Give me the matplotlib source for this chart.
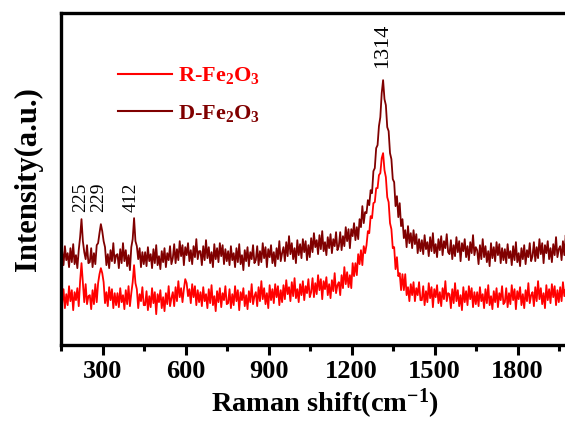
import numpy as np
import matplotlib
matplotlib.use("Agg")
import matplotlib.pyplot as plt
from matplotlib.ticker import MultipleLocator

plt.rcParams["font.family"] = ["Liberation Serif", "DejaVu Serif"]
plt.rcParams["font.weight"] = "bold"
plt.rcParams["mathtext.fontset"] = "custom"
plt.rcParams["mathtext.rm"] = "Liberation Serif:bold"
plt.rcParams["mathtext.bf"] = "Liberation Serif:bold"
plt.rcParams["mathtext.default"] = "bf"

# ---- data (arbitrary intensity units) ----
raman_shift = np.arange(154, 2000, 5)   # cm^-1, 370 points

d_fe2o3 = [
    94, 80, 99, 85, 92, 78, 97, 83, 101, 81, 90, 77, 95, 108, 126, 104, 93, 86, 100, 82,
    83, 97, 78, 92, 81, 100, 102, 112, 121, 114, 104, 98, 80, 91, 77, 95, 84, 102, 82, 90,
    91, 77, 96, 82, 102, 84, 95, 79, 90, 75, 98, 106, 127, 104, 99, 86, 97, 78, 93, 81,
    93, 79, 98, 84, 91, 77, 96, 82, 100, 80, 89, 76, 94, 83, 97, 78, 92, 85, 99, 81,
    87, 101, 82, 96, 85, 104, 89, 100, 80, 98, 90, 102, 84, 95, 81, 99, 88, 106, 86, 94,
    94, 80, 99, 85, 105, 87, 98, 82, 93, 78, 101, 86, 97, 83, 102, 89, 100, 81, 96, 84,
    94, 80, 99, 85, 92, 78, 97, 83, 101, 81, 90, 75, 95, 84, 98, 79, 93, 86, 100, 82,
    85, 99, 80, 94, 83, 102, 87, 98, 78, 96, 88, 100, 82, 93, 79, 97, 86, 104, 84, 92,
    98, 84, 103, 89, 109, 91, 102, 86, 97, 82, 105, 90, 101, 87, 106, 93, 104, 85, 100, 88,
    107, 93, 112, 98, 105, 91, 110, 96, 114, 94, 103, 90, 108, 97, 111, 92, 106, 99, 113, 95,
    99, 113, 95, 109, 99, 118, 104, 116, 97, 116, 109, 122, 105, 118, 106, 126, 118, 139, 122, 133,
    132, 145, 140, 155, 152, 174, 177, 197, 200, 219, 228, 252, 265, 246, 240, 218, 214, 192, 186, 166,
    163, 139, 149, 128, 142, 119, 126, 107, 115, 98, 119, 102, 112, 97, 115, 101, 111, 92, 106, 94,
    105, 91, 110, 96, 103, 89, 108, 94, 112, 92, 101, 88, 106, 95, 109, 90, 104, 97, 111, 93,
    91, 105, 86, 100, 89, 108, 93, 104, 84, 102, 94, 106, 88, 99, 85, 103, 92, 110, 90, 98,
    95, 81, 100, 86, 106, 88, 99, 83, 94, 79, 102, 87, 98, 84, 103, 90, 101, 82, 97, 85,
    96, 82, 101, 87, 94, 80, 99, 85, 103, 83, 92, 79, 97, 86, 100, 81, 95, 88, 102, 84,
    89, 103, 84, 98, 87, 106, 91, 102, 82, 100, 92, 104, 86, 97, 83, 101, 90, 108, 88, 96,
    99, 85, 104, 90, 110, 92, 103, 87, 98, 83,
]

r_fe2o3 = [
    42, 56, 37, 51, 40, 59, 44, 55, 35, 53, 45, 57, 39, 64, 82, 62, 43, 61, 41, 49,
    50, 36, 55, 41, 61, 43, 62, 71, 77, 72, 63, 42, 53, 39, 58, 45, 56, 37, 52, 40,
    52, 38, 57, 43, 50, 36, 55, 41, 59, 39, 52, 63, 80, 62, 56, 37, 51, 44, 58, 40,
    40, 54, 35, 49, 38, 57, 42, 53, 31, 51, 43, 55, 37, 48, 34, 52, 41, 59, 39, 47,
    53, 39, 58, 44, 64, 48, 57, 43, 56, 66, 62, 49, 56, 42, 61, 48, 59, 40, 55, 43,
    53, 39, 58, 44, 51, 37, 56, 42, 60, 40, 49, 34, 54, 43, 57, 38, 52, 45, 59, 41,
    42, 56, 37, 51, 40, 59, 44, 55, 35, 53, 45, 57, 39, 50, 36, 54, 43, 61, 41, 49,
    53, 39, 58, 44, 64, 46, 57, 41, 52, 37, 60, 45, 56, 42, 61, 48, 59, 40, 55, 43,
    60, 46, 65, 51, 58, 44, 63, 49, 67, 47, 56, 43, 61, 50, 64, 45, 59, 52, 66, 48,
    53, 67, 48, 62, 51, 70, 55, 66, 46, 64, 56, 68, 50, 61, 47, 65, 54, 72, 52, 60,
    63, 50, 70, 57, 78, 61, 73, 58, 70, 57, 82, 69, 82, 70, 91, 81, 95, 80, 99, 92,
    100, 114, 112, 129, 127, 142, 143, 157, 157, 170, 172, 187, 192, 175, 168, 148, 143, 122, 116, 97,
    98, 76, 88, 69, 72, 55, 71, 55, 71, 50, 58, 44, 61, 50, 63, 44, 57, 50, 63, 45,
    45, 59, 40, 54, 43, 62, 47, 58, 38, 56, 48, 60, 42, 53, 39, 57, 46, 64, 44, 52,
    51, 37, 56, 42, 62, 44, 55, 39, 50, 35, 58, 43, 54, 40, 59, 46, 57, 38, 53, 41,
    53, 39, 58, 44, 51, 37, 56, 42, 60, 40, 49, 36, 54, 43, 57, 38, 52, 45, 59, 41,
    43, 57, 38, 52, 41, 60, 45, 56, 36, 54, 46, 58, 40, 51, 37, 55, 44, 62, 42, 50,
    53, 39, 58, 44, 64, 46, 57, 41, 52, 37, 60, 45, 56, 42, 61, 48, 59, 40, 55, 43,
    58, 44, 63, 49, 56, 42, 61, 47, 65, 45,
]

peak_pos = [220, 287, 405, 1312]
peak_text = ["225", "229", "412", "1314"]
peak_y = [133, 133, 133, 277]
peak_size = [14, 14, 14, 16]

d_color = "#800000"
r_color = "#ff0000"

fig = plt.figure(figsize=(5.65, 4.23), dpi=100)
ax = fig.add_axes([0.108, 0.184, 0.906, 0.785])

ax.plot(raman_shift, r_fe2o3, color=r_color, lw=1.3, label=r"R-Fe$_2$O$_3$")
ax.plot(raman_shift, d_fe2o3, color=d_color, lw=1.3, label=r"D-Fe$_2$O$_3$")

for xp, t, yp, fs in zip(peak_pos, peak_text, peak_y, peak_size):
    ax.text(xp, yp, t, rotation=90, ha="center", va="bottom",
            fontsize=fs, fontweight="normal")

ax.set_xlim(150, 2000)
ax.set_ylim(0, 332)
ax.xaxis.set_major_locator(MultipleLocator(300))
ax.xaxis.set_minor_locator(MultipleLocator(150))
ax.set_yticks([])
ax.tick_params(axis="x", which="major", length=7, width=2.2, labelsize=19, pad=4)
ax.tick_params(axis="x", which="minor", length=4, width=2.2)
for s in ax.spines.values():
    s.set_linewidth(2.4)

ax.set_xlabel(r"Raman shift(cm$^{-1}$)", fontsize=20.5, fontweight="bold", labelpad=2.5)
ax.xaxis.label.set_x(0.516)
ax.set_ylabel("Intensity(a.u.)", fontsize=22, fontweight="bold")
ax.yaxis.set_label_coords(-0.036, 0.5)

leg = ax.legend(loc="upper left", bbox_to_anchor=(0.073, 0.903), frameon=False,
                fontsize=16, handlelength=2.4, handletextpad=0.3,
                labelspacing=0.75, labelcolor="linecolor")
for h in leg.get_lines():
    h.set_linewidth(1.5)

fig.savefig("out.png", dpi=100)
